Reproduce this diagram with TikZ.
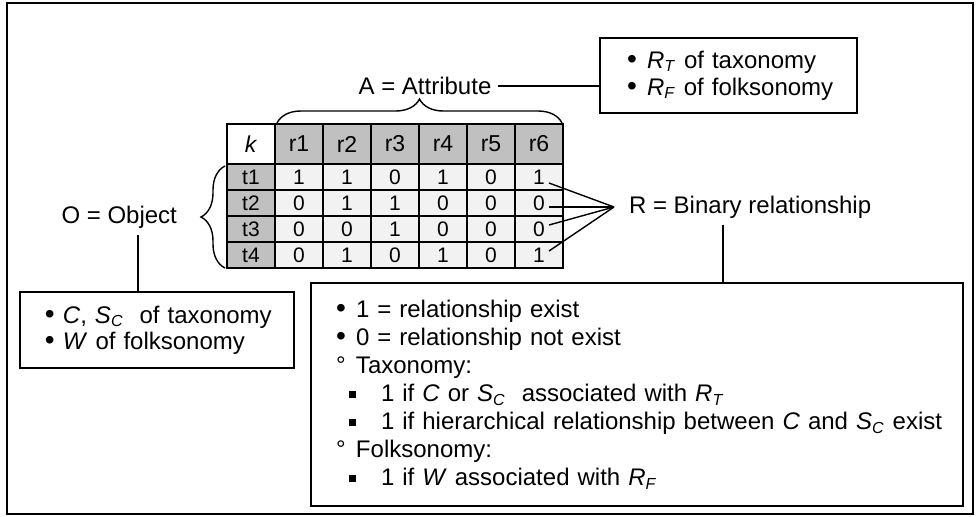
\documentclass[tikz,border=0pt]{standalone}
\usepackage{fontspec}
\setmainfont{Liberation Sans}
\usepackage{tikz}
\usetikzlibrary{decorations.pathreplacing}

\definecolor{hdgrey}{HTML}{C0C0C0}
\definecolor{datgrey}{HTML}{F2F2F2}

\newcommand\bul{\makebox[10pt][l]{\fontsize{14}{13}\selectfont\textbullet}}
\newcommand\smbul{\makebox[9pt][l]{\fontsize{14}{13}\selectfont\textbullet}}
\newcommand\cir{\makebox[10pt][l]{\textdegree}}
\newcommand\sqi{\hspace{6.5pt}\makebox[16pt][l]{\rule[0.25ex]{0.3em}{0.3em}}}
\newcommand\Sc{\textit{S}\textsubscript{\textit{C}}}

\begin{document}
\begin{tikzpicture}[x=0.5pt, y=-0.5pt, font=\fontsize{12}{13}\selectfont,
  hdcell/.style={draw, line width=1pt, fill=hdgrey, minimum width=24pt, minimum height=20pt, inner sep=0pt, font=\fontsize{11.5}{12}\selectfont},
  datcell/.style={draw, line width=1pt, fill=datgrey, minimum width=24pt, minimum height=13pt, inner sep=0pt, font=\fontsize{10.5}{11}\selectfont},
  infobox/.style={draw, line width=0.8pt, align=left, inner ysep=0pt},
  conn/.style={line width=0.7pt},
  curly/.style={line width=0.7pt, decorate, decoration={brace, amplitude=12pt}}]
  \useasboundingbox (0,0) rectangle (976,516);
  \draw[line width=1pt] (7,3) rectangle (973,514);

  \node[hdcell, fill=white] (k) at (251,144) {\textit{k}};
  \foreach \c in {1,...,6}
    \node[hdcell] (r\c) at ({251+48*\c},144) {r\c};
  \foreach \r/\vals in {1/{1,1,0,1,0,1}, 2/{0,1,1,0,0,0}, 3/{0,0,1,0,0,0}, 4/{0,1,0,1,0,1}} {
    \node[datcell, fill=hdgrey] (t\r) at (251,{177+26*(\r-1)}) {t\r};
    \foreach \v [count=\c] in \vals
      \node[datcell] (d\r\c) at ({251+48*\c},{177+26*(\r-1)}) {\v};
  }

  \draw[curly] (277,123) -- (562,123);
  \draw[curly] (225,268) -- (225,166);

  \node (attr) at (425,86) {A = Attribute};
  \node[anchor=east] (obj) at (184,217) {O = Object};
  \node[anchor=west] (rel) at (622,207) {R = Binary relationship};
  \coordinate (rtip) at (614,207);

  \node[infobox, minimum width=128.5pt, minimum height=37.5pt, inner xsep=13.5pt, text width=101.5pt,
    font=\fontsize{12}{13.5}\selectfont] (rtbox) at (728.5,75.5)
    {\mbox{\bul\textit{R}\textsubscript{\textit{T}} of taxonomy}\\
     \mbox{\bul\textit{R}\textsubscript{\textit{F}} of folksonomy}};
  \node[infobox, minimum width=137pt, minimum height=38pt, inner xsep=12.5pt, text width=112pt] (objbox) at (157,330)
    {\mbox{\smbul\textit{C}, \Sc\ \ of taxonomy}\\
     \mbox{\smbul\textit{W} of folksonomy}};
  \node[infobox, minimum width=326pt, minimum height=111.5pt, inner xsep=12.5pt, text width=301pt,
    font=\fontsize{12}{14}\selectfont] (relbox) at (637,394.5)
    {\mbox{\bul 1 = relationship exist}\\
     \mbox{\bul 0 = relationship not exist}\\
     \mbox{\cir Taxonomy:}\\
     \mbox{\sqi 1 if \textit{C} or \Sc\ \ associated with \textit{R}\textsubscript{\textit{T}}}\\
     \mbox{\sqi 1 if hierarchical relationship between \textit{C} and \Sc\ exist}\\
     \mbox{\cir Folksonomy:}\\
     \mbox{\sqi 1 if \textit{W} associated with \textit{R}\textsubscript{\textit{F}}}};

  \coordinate (otap) at (138,0);
  \coordinate (rtap) at (723,0);
  \draw[conn] (attr.east) -- (attr.east -| rtbox.west);
  \draw[conn] (otap |- obj.south) -- (otap |- objbox.north);
  \draw[conn] (rtap |- rel.south) -- (rtap |- relbox.north);
  \draw[conn] ([shift={(10,6)}]d16.center) -- (rtip);
  \draw[conn] ([shift={(10,4)}]d26.center) -- (rtip);
  \draw[conn] ([shift={(10,-4)}]d36.center) -- (rtip);
  \draw[conn] ([shift={(10,-4)}]d46.center) -- (rtip);
\end{tikzpicture}
\end{document}
